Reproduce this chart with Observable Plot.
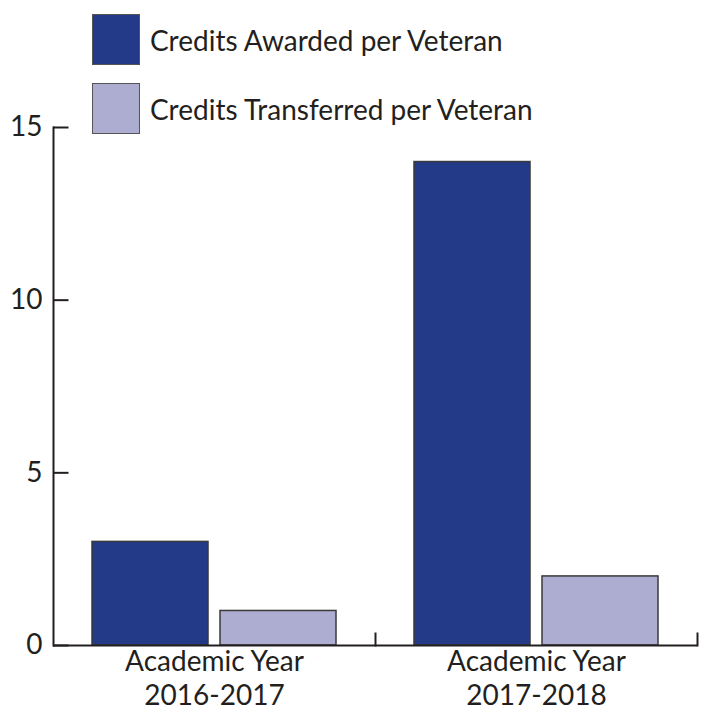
<!DOCTYPE html>
<html>
<head>
<meta charset="utf-8">
<script src="https://cdn.jsdelivr.net/npm/d3@7"></script>
<script src="https://cdn.jsdelivr.net/npm/@observablehq/plot@0.6"></script>
<style>
  html, body { margin: 0; padding: 0; background: #fff; }
  #wrap { position: relative; width: 706px; height: 715px; font-family: Lato, "Open Sans", sans-serif; color: #231f20; }
  #legend { position: absolute; left: 0; top: 0; }
  .item { position: absolute; display: flex; align-items: center; white-space: nowrap; }
  .sw { width: 48px; height: 51px; border: 1.5px solid #555; box-sizing: border-box; }
  .lab { font-size: 28px; margin-left: 10px; }
</style>
</head>
<body>
<div id="wrap"><div id="chart"></div><div id="legend"></div></div>
<script>
const years = ["2016-2017", "2017-2018"];
const series = ["Credits Awarded per Veteran", "Credits Transferred per Veteran"];
const awarded = [3, 14];
const transferred = [1, 2];
const colors = ["#233a88", "#acadd0"];
const yTicks = [0, 5, 10, 15];

const rows = [];
years.forEach((yr, i) => {
  rows.push({year: yr, series: series[0], value: awarded[i]});
  rows.push({year: yr, series: series[1], value: transferred[i]});
});

const ink = "#231f20";
const facetW = (706 - 52 - 9) / years.length;
const chart = Plot.plot({
  width: 706,
  height: 715,
  marginLeft: 52,
  marginRight: 9,
  marginTop: 127,
  marginBottom: 70,
  style: {fontFamily: "Lato, 'Open Sans', sans-serif", color: ink, background: "white"},
  fx: {domain: years, padding: 0, label: null},
  x: {domain: series, paddingInner: 0.093, paddingOuter: 0.302, axis: null},
  y: {domain: [0, 15], label: null},
  color: {domain: series, range: colors},
  marks: [
    Plot.barY(rows, {fx: "year", x: "series", y: "value", fill: "series", stroke: "#3a3a3a", strokeWidth: 1.5}),
    Plot.ruleY([0], {stroke: ink, strokeWidth: 2}),
    Plot.frame({anchor: "left", facetAnchor: "left", stroke: ink, strokeWidth: 2}),
    Plot.frame({anchor: "right", insetTop: 506, stroke: ink, strokeWidth: 2}),
    Plot.tickY(yTicks, {y: d => d, facetAnchor: "left", insetRight: facetW - 16, stroke: ink, strokeWidth: 2}),
    Plot.axisY({ticks: yTicks, tickSize: 0, tickPadding: 11, fontSize: 28, label: null}),
    Plot.axisFx({anchor: "bottom", tickSize: 0, tickPadding: 2, fontSize: 28, lineHeight: 1.2, label: null,
                 tickFormat: d => "Academic Year\n" + d})
  ]
});
document.getElementById("chart").appendChild(chart);

const legend = document.getElementById("legend");
series.forEach((s, i) => {
  const item = document.createElement("div");
  item.className = "item";
  item.style.left = "92px";
  item.style.top = (14 + i * 69) + "px";
  const sw = document.createElement("div");
  sw.className = "sw";
  sw.style.background = colors[i];
  const lab = document.createElement("span");
  lab.className = "lab";
  lab.textContent = s;
  item.appendChild(sw);
  item.appendChild(lab);
  legend.appendChild(item);
});
</script>
</body>
</html>
